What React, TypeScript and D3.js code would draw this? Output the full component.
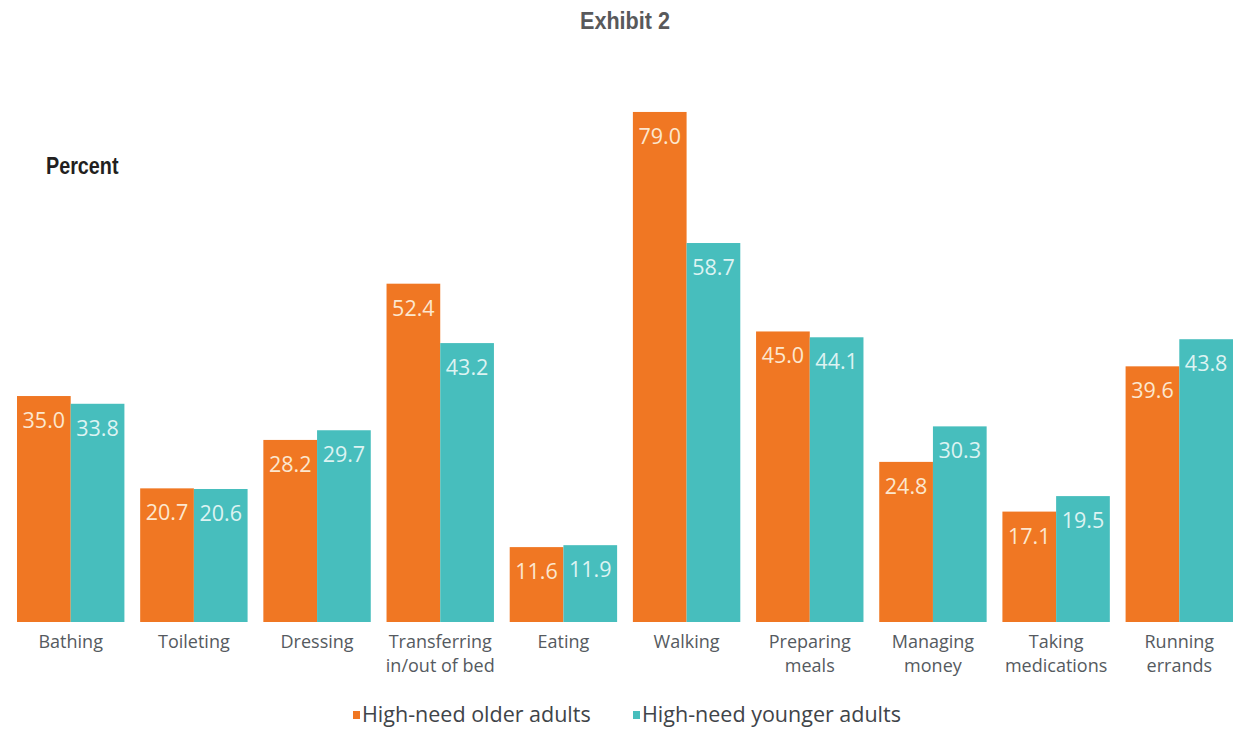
import React from "react";
import * as d3 from "d3";

const categories: string[][] = [
  ["Bathing"],
  ["Toileting"],
  ["Dressing"],
  ["Transferring", "in/out of bed"],
  ["Eating"],
  ["Walking"],
  ["Preparing", "meals"],
  ["Managing", "money"],
  ["Taking", "medications"],
  ["Running", "errands"],
];
const olderValues = [35.0, 20.7, 28.2, 52.4, 11.6, 79.0, 45.0, 24.8, 17.1, 39.6];
const youngerValues = [33.8, 20.6, 29.7, 43.2, 11.9, 58.7, 44.1, 30.3, 19.5, 43.8];
const seriesNames = ["High-need older adults", "High-need younger adults"];

const W = 1233;
const H = 729;
const ORANGE = "#F07723";
const TEAL = "#47BEBD";
const SANS = "'Open Sans', 'Noto Sans', sans-serif";
const HEAD = "'Liberation Sans', Arial, sans-serif";

export default function App() {
  const keys = categories.map((c) => c.join(" "));
  const x = d3.scaleBand<string>().domain(keys).range([17, 1233]).paddingInner(0.128).paddingOuter(0);
  const xs = d3.scaleBand<number>().domain([0, 1]).range([0, x.bandwidth()]);
  const y = d3.scaleLinear().domain([0, 80]).range([622, 105.5]);
  const series = [olderValues, youngerValues];
  const colors = [ORANGE, TEAL];
  const labelColors = ["#FCE7CF", "#DDF3F2"];
  const legendX = [353, 633];

  return (
    <svg width={W} height={H} style={{ position: "absolute", left: 0, top: 0, background: "#fff" }}>
      <g transform="translate(625,29) scale(0.9,1)">
        <text x={0} y={0} textAnchor="middle" fontFamily={HEAD} fontWeight="bold" fontSize={24} fill="#58595b">
          Exhibit 2
        </text>
      </g>
      <g transform="translate(46,174) scale(0.86,1)">
        <text x={0} y={0} fontFamily={HEAD} fontWeight="bold" fontSize={23} fill="#231f20">
          Percent
        </text>
      </g>
      {keys.map((k, i) => (
        <g key={k} transform={`translate(${x(k)},0)`}>
          {series.map((vals, s) => {
            const bx = xs(s)!;
            const bw = xs.bandwidth();
            const top = y(vals[i]);
            return (
              <g key={s}>
                <rect x={bx} y={top} width={bw} height={y(0) - top} fill={colors[s]} />
                <text
                  x={bx + bw / 2}
                  y={top + 32}
                  textAnchor="middle"
                  fontFamily={SANS}
                  fontSize={21.5}
                  fill={labelColors[s]}
                >
                  {vals[i].toFixed(1)}
                </text>
              </g>
            );
          })}
          {categories[i].map((line, li) => (
            <text
              key={li}
              x={x.bandwidth() / 2}
              y={648 + li * 24}
              textAnchor="middle"
              fontFamily={SANS}
              fontSize={18}
              fill="#555a60"
            >
              {line}
            </text>
          ))}
        </g>
      ))}
      {seriesNames.map((name, s) => (
        <g key={name}>
          <rect x={legendX[s]} y={711} width={7} height={8} fill={colors[s]} />
          <text x={legendX[s] + 9} y={722} fontFamily={SANS} fontSize={21.5} fill="#3f4449">
            {name}
          </text>
        </g>
      ))}
    </svg>
  );
}
